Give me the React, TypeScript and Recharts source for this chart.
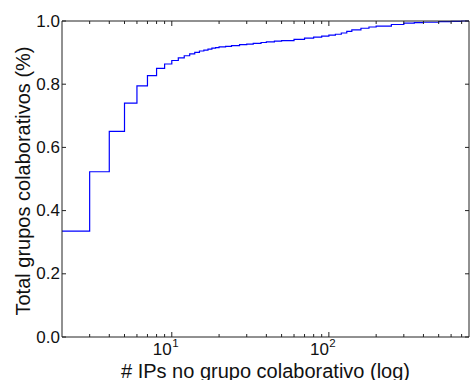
import React from 'react';
import { LineChart, Line, XAxis, YAxis } from 'recharts';

// group size (# IPs) and cumulative share of collaborative groups
const ipCounts = [
  2, 3, 4, 5, 6, 7, 8, 9, 10, 11, 12, 13, 14, 15, 16, 17, 18, 19, 20,
  22, 24, 27, 30, 33, 37, 40, 45, 50, 60, 70, 80, 90, 100, 110, 120, 130,
  140, 160, 180, 200, 250, 300, 350, 400, 500, 600, 700, 780,
];
const cdfValues = [
  0.335, 0.523, 0.651, 0.740, 0.795, 0.827, 0.850, 0.864, 0.875, 0.883, 0.890,
  0.896, 0.901, 0.905, 0.908, 0.911, 0.914, 0.916, 0.918,
  0.920, 0.922, 0.925, 0.927, 0.929, 0.932, 0.934, 0.936, 0.938, 0.942, 0.946,
  0.949, 0.952, 0.955, 0.958, 0.962, 0.967, 0.972, 0.977, 0.981, 0.984, 0.989,
  0.993, 0.995, 0.996, 0.998, 0.999, 1.0, 1.0,
];

const xTicks = [3, 4, 5, 6, 7, 8, 9, 10, 20, 30, 40, 50, 60, 70, 80, 90, 100, 200, 300, 400, 500, 600, 700];
const majorX: Record<number, string> = { 10: '1', 100: '2' };
const yTicks = [0, 0.2, 0.4, 0.6, 0.8, 1.0];

const data = ipCounts.map((n, i) => ({ n, cdf: cdfValues[i] }));

const FONT = "Arial, 'Liberation Sans', Helvetica, sans-serif";
const AXIS = '#222';

const XTick = (props: any) => {
  const { x, y, payload, top } = props;
  const exp = majorX[payload.value];
  const len = exp ? 5 : 3;
  return (
    <g>
      <line x1={x} y1={y} x2={x} y2={top ? y + len : y - len} stroke={AXIS} />
      {!top && exp && (
        <g fontFamily={FONT} fill="#111">
          <text x={x} y={y + 18} textAnchor="end" fontSize={17}>10</text>
          <text x={x + 0.5} y={y + 10} textAnchor="start" fontSize={11.5}>{exp}</text>
        </g>
      )}
    </g>
  );
};

const YTick = (props: any) => {
  const { x, y, payload, right } = props;
  return (
    <g>
      <line x1={x} y1={y} x2={right ? x - 4 : x + 4} y2={y} stroke={AXIS} />
      {!right && (
        <text x={x - 2} y={y + 5.5} textAnchor="end" fontSize={17} fontFamily={FONT} fill="#111">
          {payload.value.toFixed(1)}
        </text>
      )}
    </g>
  );
};

const XLabel = (props: any) => {
  const vb = props.viewBox;
  return (
    <text x={vb.x + vb.width / 2} y={377.5} textAnchor="middle" fontSize={20} fontFamily={FONT} fill="#111">
      # IPs no grupo colaborativo (log)
    </text>
  );
};

const YLabel = (props: any) => {
  const vb = props.viewBox;
  const cx = 30;
  const cy = vb.y + vb.height / 2 + 2;
  return (
    <text x={cx} y={cy} transform={`rotate(-90 ${cx} ${cy})`} textAnchor="middle" fontSize={20} fontFamily={FONT} fill="#111">
      Total grupos colaborativos (%)
    </text>
  );
};

export default function App() {
  return (
    <div style={{ position: 'absolute', left: 0, top: 0, background: '#fff' }}>
      <LineChart width={470} height={380} data={data} margin={{ top: 20, right: 0, bottom: 0, left: 0 }}>
        <XAxis
          dataKey="n"
          type="number"
          scale="log"
          domain={[2, 780]}
          allowDataOverflow
          ticks={xTicks}
          interval={0}
          height={43}
          tickSize={0}
          tickMargin={0}
          tickLine={false}
          axisLine={{ stroke: AXIS }}
          tick={<XTick />}
          label={{ content: <XLabel /> }}
        />
        <XAxis
          xAxisId="top"
          orientation="top"
          dataKey="n"
          type="number"
          scale="log"
          domain={[2, 780]}
          allowDataOverflow
          ticks={xTicks}
          interval={0}
          height={1}
          tickSize={0}
          tickMargin={0}
          tickLine={false}
          axisLine={{ stroke: AXIS }}
          tick={<XTick top />}
        />
        <YAxis
          type="number"
          domain={[0, 1]}
          ticks={yTicks}
          interval={0}
          width={62}
          tickSize={0}
          tickMargin={0}
          tickLine={false}
          axisLine={{ stroke: AXIS }}
          tick={<YTick />}
          label={{ content: <YLabel /> }}
        />
        <YAxis
          yAxisId="right"
          orientation="right"
          type="number"
          domain={[0, 1]}
          ticks={yTicks}
          interval={0}
          width={1}
          tickSize={0}
          tickMargin={0}
          tickLine={false}
          axisLine={{ stroke: AXIS }}
          tick={<YTick right />}
        />
        {/* invisible copy so the frame axes (top / right) get drawn */}
        <Line
          xAxisId="top"
          yAxisId="right"
          type="stepAfter"
          dataKey="cdf"
          stroke="none"
          dot={false}
          activeDot={false}
          legendType="none"
          isAnimationActive={false}
        />
        <Line
          type="stepAfter"
          dataKey="cdf"
          stroke="#0000ff"
          strokeWidth={1.2}
          dot={false}
          activeDot={false}
          isAnimationActive={false}
        />
      </LineChart>
    </div>
  );
}
